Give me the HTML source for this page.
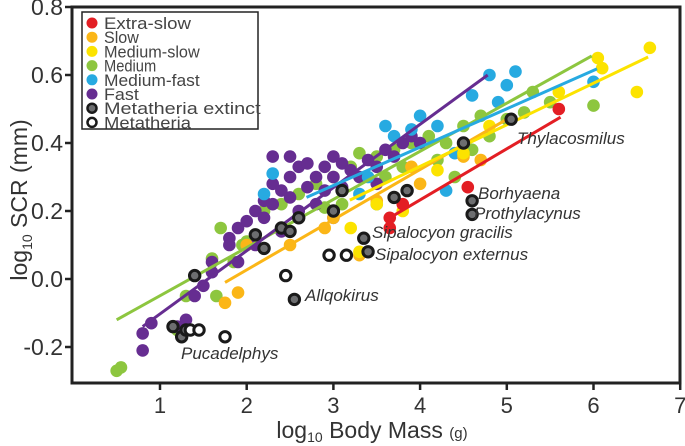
<!DOCTYPE html>
<html><head><meta charset="utf-8"><style>
body{margin:0;background:#fff;}
svg{display:block;font-family:"Liberation Sans","DejaVu Sans",sans-serif;}
</style></head><body>
<svg id="chart" width="685" height="446" viewBox="0 0 685 446" xmlns="http://www.w3.org/2000/svg">
<g id="marks"></g>
<rect x="72" y="7" width="608" height="376" fill="none" stroke="#222" stroke-width="3"/>
<g id="axes"></g>
<text transform="translate(27,200) rotate(-90)" text-anchor="middle" font-size="23" fill="#333">log<tspan font-size="14" dy="5">10</tspan><tspan dy="-5"> SCR (mm)</tspan></text>
<text x="372" y="438" text-anchor="middle" font-size="23" fill="#333">log<tspan font-size="14" dy="4">10</tspan><tspan dy="-4"> Body Mass </tspan><tspan font-size="15">(g)</tspan></text>
<g id="labels" font-style="italic" font-size="17" fill="#333">
<text x="517" y="144">Thylacosmilus</text>
<text x="478" y="199">Borhyaena</text>
<text x="474" y="219">Prothylacynus</text>
<text x="372" y="238">Sipalocyon gracilis</text>
<text x="375" y="260">Sipalocyon externus</text>
<text x="305" y="301">Allqokirus</text>
<text x="181" y="359">Pucadelphys</text>
</g>
<g id="legend"></g>
</svg>
<script>
const xTicks=[1,2,3,4,5,6,7];
const yTicks=[-0.2,0.0,0.2,0.4,0.6,0.8];
const yTickLabels=["-0.2","0.0","0.2","0.4","0.6","0.8"];
const fastPts=[[0.8,-0.21],[0.8,-0.16],[0.9,-0.13],[1.2,-0.14],[1.3,-0.12],[1.4,-0.05],[1.5,-0.02],[1.6,0.02],[1.6,0.05],[1.8,0.12],[1.8,0.1],[1.9,0.15],[2.0,0.17],[2.1,0.2],[2.1,0.1],[2.2,0.23],[2.2,0.18],[2.3,0.28],[2.3,0.22],[2.4,0.26],[2.5,0.3],[2.5,0.24],[2.6,0.33],[2.6,0.2],[2.7,0.27],[2.7,0.34],[2.8,0.3],[2.8,0.22],[2.9,0.33],[2.9,0.26],[3.0,0.36],[3.0,0.3],[3.1,0.34],[3.1,0.27],[3.2,0.32],[3.3,0.3],[3.4,0.35],[3.5,0.33],[3.6,0.38],[3.7,0.36],[3.8,0.4],[3.9,0.42],[4.0,0.4],[3.5,0.28],[3.0,0.18],[2.4,0.14],[2.3,0.36],[2.5,0.36],[1.9,0.05]];
const mediumPts=[[0.5,-0.27],[0.55,-0.26],[1.2,-0.15],[1.3,-0.05],[1.65,-0.05],[1.6,0.06],[1.7,0.15],[1.85,0.05],[1.95,0.1],[2.0,0.11],[2.2,0.2],[2.4,0.22],[2.6,0.25],[2.8,0.28],[3.0,0.3],[3.2,0.33],[3.3,0.37],[3.5,0.36],[3.7,0.38],[3.9,0.4],[4.1,0.42],[4.3,0.4],[4.5,0.45],[4.7,0.48],[4.8,0.42],[5.0,0.47],[5.2,0.49],[5.3,0.55],[5.5,0.52],[6.0,0.51],[4.2,0.35],[4.4,0.3],[4.6,0.38],[3.8,0.33],[3.6,0.3],[2.9,0.21],[3.1,0.22]];
const medFastPts=[[2.3,0.31],[2.2,0.25],[3.0,0.2],[3.4,0.3],[3.6,0.45],[3.7,0.42],[3.9,0.44],[4.0,0.48],[4.2,0.45],[4.6,0.54],[4.8,0.6],[5.0,0.57],[5.1,0.61],[4.4,0.37],[4.9,0.52],[4.3,0.26],[3.3,0.25],[3.5,0.22],[6.0,0.58]];
const medSlowPts=[[3.2,0.15],[3.3,0.08],[3.5,0.22],[3.8,0.2],[4.2,0.32],[4.5,0.37],[4.8,0.45],[5.6,0.55],[6.1,0.62],[6.05,0.65],[6.5,0.55],[6.65,0.68]];
const slowPts=[[1.75,-0.07],[1.9,-0.04],[2.0,0.1],[2.5,0.1],[2.9,0.15],[3.0,0.18],[3.3,0.07],[3.5,0.23],[3.9,0.33],[4.5,0.36],[4.7,0.35],[4.0,0.28]];
const extraSlowPts=[[3.65,0.15],[3.65,0.18],[3.8,0.22],[4.55,0.27],[5.6,0.5]];
const extinctPts=[[1.4,0.01],[1.15,-0.14],[1.25,-0.17],[1.3,-0.15],[2.1,0.13],[2.2,0.09],[2.4,0.15],[2.5,0.14],[2.55,-0.06],[2.6,0.18],[3.0,0.2],[3.1,0.26],[3.35,0.12],[3.4,0.08],[3.7,0.24],[3.85,0.26],[4.6,0.19],[4.6,0.23],[4.5,0.4],[5.05,0.47]];
const metaPts=[[1.35,-0.15],[1.45,-0.15],[1.75,-0.17],[2.45,0.01],[2.95,0.07],[3.15,0.07]];
const fitFast=[[0.8,-0.14],[4.78,0.6]];
const fitMedium=[[0.5,-0.12],[5.98,0.656]];
const fitMedFast=[[2.69,0.24],[6.04,0.618]];
const fitMedSlow=[[3.19,0.232],[6.63,0.653]];
const fitSlow=[[1.75,-0.01],[5.07,0.48]];
const fitExtraSlow=[[3.65,0.18],[5.62,0.476]];
const legendLabels=["Extra-slow","Slow","Medium-slow","Medium","Medium-fast","Fast","Metatheria extinct","Metatheria"];

const NS="http://www.w3.org/2000/svg";
const X0=73.3,XS=86.7,Y0=279,YS=340;
function sx(v){return X0+v*XS;}
function sy(v){return Y0-v*YS;}
function mk(tag,attrs,parent){const e=document.createElementNS(NS,tag);for(const k in attrs)e.setAttribute(k,attrs[k]);parent.appendChild(e);return e;}
const marks=document.getElementById('marks');
const axes=document.getElementById('axes');
const C={red:"#e31e24",orange:"#fbb617",yellow:"#fce300",green:"#8dc63f",blue:"#27aae1",purple:"#662d91"};

function dots(pts,color,name){
  const g=mk('g',{},marks);
  
  
  pts.forEach(p=>{
    const c=mk('circle',{cx:sx(p[0]),cy:sy(p[1]),r:6.3,fill:color},g);
    
    
  });
}
function fit(seg,color,name){
  const l=mk('line',{x1:sx(seg[0][0]),y1:sy(seg[0][1]),x2:sx(seg[1][0]),y2:sy(seg[1][1]),stroke:color,'stroke-width':3},marks);
  
  
}
dots(mediumPts,C.green,'medium');
dots(fastPts,C.purple,'fast');
dots(medFastPts,C.blue,'medium-fast');
dots(slowPts,C.orange,'slow');
dots(medSlowPts,C.yellow,'medium-slow');
dots(extraSlowPts,C.red,'extra-slow');
fit(fitMedium,C.green,'medium');
fit(fitFast,C.purple,'fast');
fit(fitMedFast,C.blue,'medium-fast');
fit(fitSlow,C.orange,'slow');
fit(fitMedSlow,C.yellow,'medium-slow');
fit(fitExtraSlow,C.red,'extra-slow');
extinctPts.forEach(p=>{
  const c=mk('circle',{cx:sx(p[0]),cy:sy(p[1]),r:5.2,fill:"#6d6e70",stroke:"#1a1a1a",'stroke-width':3},marks);
  
  
});
metaPts.forEach(p=>{
  const c=mk('circle',{cx:sx(p[0]),cy:sy(p[1]),r:5.2,fill:"#fff",stroke:"#1a1a1a",'stroke-width':3},marks);
  
  
});

xTicks.forEach(t=>{
  const l=mk('line',{x1:sx(t),y1:383,x2:sx(t),y2:390,stroke:"#222",'stroke-width':2.5},axes);
  
  
  const tx=mk('text',{x:sx(t),y:413,'text-anchor':'middle','font-size':22,fill:'#333'},axes);
  tx.textContent=t;
  
  
});
yTicks.forEach((t,i)=>{
  const l=mk('line',{x1:65,y1:sy(t),x2:72,y2:sy(t),stroke:"#222",'stroke-width':2.5},axes);
  
  
  const tx=mk('text',{x:63,y:sy(t)+8,'text-anchor':'end','font-size':23,fill:'#333'},axes);
  tx.textContent=yTickLabels[i];
  
  
});

const lg=document.getElementById('legend');
const box=mk('rect',{x:82,y:12,width:176,height:117,fill:'#fff',stroke:'#222','stroke-width':1.5},lg);


const lc=[C.red,C.orange,C.yellow,C.green,C.blue,C.purple,null,null];
legendLabels.forEach((lab,i)=>{
  const y=23+i*14.2;
  const g=mk('g',{},lg);
  
  
  if(lc[i]) mk('circle',{cx:92,cy:y,r:5.5,fill:lc[i]},g);
  else mk('circle',{cx:92,cy:y,r:4.5,fill:i==6?'#6d6e70':'#fff',stroke:'#1a1a1a','stroke-width':2.5},g);
  const t=mk('text',{x:104,y:y+6,'font-size':17,fill:'#444',textLength:lab.length*8.7,lengthAdjust:'spacingAndGlyphs'},g);
  t.textContent=lab;
});
</script>
</body></html>
